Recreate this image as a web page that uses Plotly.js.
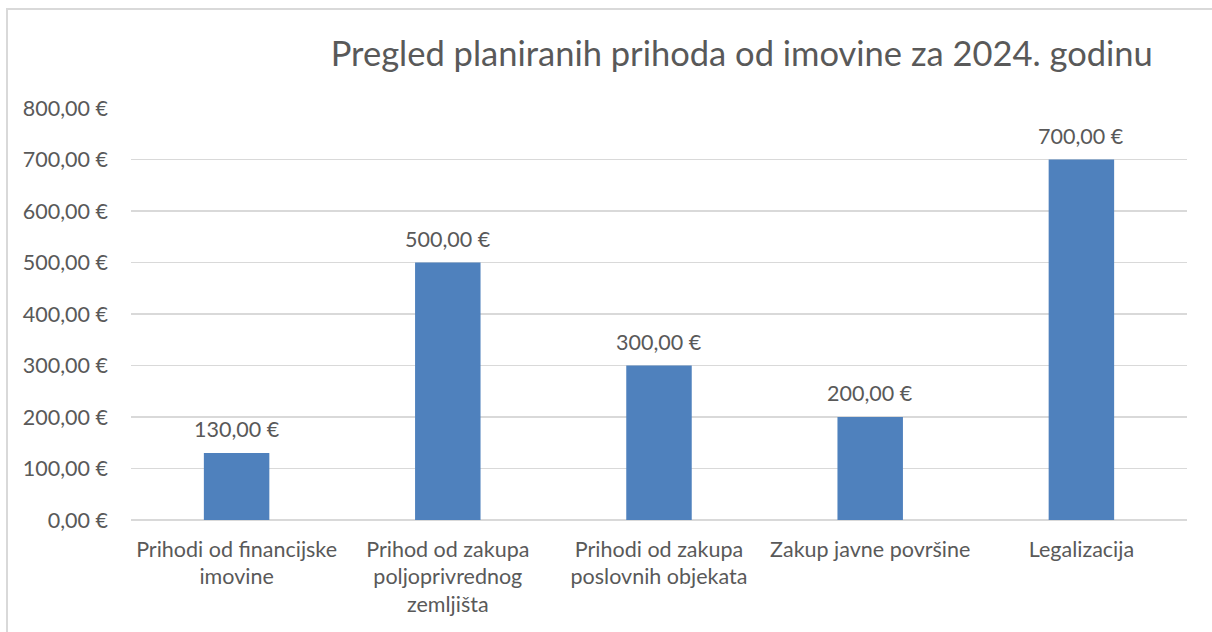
<!DOCTYPE html>
<html>
<head>
<meta charset="utf-8">
<script src="https://cdn.plot.ly/plotly-3.0.1.min.js"></script>
<style>
  html, body { margin: 0; padding: 0; background: #fff; }
  #chart { width: 1212px; height: 632px; }
  #frame { position: absolute; left: 6px; top: 8px; width: 1300px; height: 700px;
           border-left: 2px solid #D9D9D9; border-top: 2px solid #D9D9D9; pointer-events: none; }
</style>
</head>
<body>
<div id="chart"></div>
<div id="frame"></div>
<script>
const categories = [
  "Prihodi od financijske<br>imovine",
  "Prihod od zakupa<br>poljoprivrednog<br>zemljišta",
  "Prihodi od zakupa<br>poslovnih objekata",
  "Zakup javne površine",
  "Legalizacija"
];
const values = [130, 500, 300, 200, 700];
const tickValues = [0, 100, 200, 300, 400, 500, 600, 700, 800];
const tickLabels = ["0,00 €", "100,00 €", "200,00 €", "300,00 €", "400,00 €", "500,00 €", "600,00 €", "700,00 €", "800,00 €"];
const valueLabels = ["130,00 €", "500,00 €", "300,00 €", "200,00 €", "700,00 €"];
const titleText = "Pregled planiranih prihoda od imovine za 2024. godinu";

const FONT = "Lato, Carlito, Calibri, sans-serif";
const GREY = "#595959";
const FS = 21.5;

const trace = {
  type: "bar",
  x: categories,
  y: values,
  marker: { color: "#4F81BD" },
  hoverinfo: "none"
};

const annotations = categories.map((c, i) => ({
  x: c, y: values[i], xref: "x", yref: "y",
  text: valueLabels[i], showarrow: false,
  yanchor: "bottom", yshift: 9,
  font: { family: FONT, size: FS, color: GREY }
}));

const layout = {
  width: 1212, height: 632,
  margin: { l: 131, r: 25, t: 108, b: 112 },
  paper_bgcolor: "#fff", plot_bgcolor: "#fff",
  bargap: 0.69,
  showlegend: false,
  title: {
    text: titleText,
    font: { family: FONT, size: 34.5, color: GREY },
    x: 0.612, xanchor: "center", xref: "container",
    y: 0.915, yanchor: "middle", yref: "container"
  },
  xaxis: {
    type: "category",
    tickfont: { family: FONT, size: FS, color: GREY },
    showgrid: false, showline: false, zeroline: false,
    ticks: "", ticklabelstandoff: 14,
    tickangle: 0
  },
  yaxis: {
    range: [0, 800],
    tickvals: tickValues, ticktext: tickLabels,
    tickfont: { family: FONT, size: FS, color: GREY },
    showgrid: true, gridcolor: "#D9D9D9", gridwidth: 1.5,
    zeroline: true, zerolinecolor: "#D9D9D9", zerolinewidth: 1.5,
    showline: false, ticks: "", ticklabelstandoff: 22
  },
  annotations: annotations
};

Plotly.newPlot("chart", [trace], layout, { displayModeBar: false, staticPlot: true });
</script>
</body>
</html>
